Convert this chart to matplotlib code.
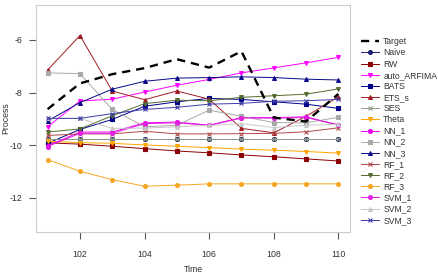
import matplotlib.pyplot as plt

# forecast horizon
time = [101, 102, 103, 104, 105, 106, 107, 108, 109, 110]

target = [-8.63, -7.65, -7.30, -7.07, -6.73, -7.05, -6.43, -8.95, -9.10, -8.05]
naive = [-9.78, -9.78, -9.78, -9.78, -9.78, -9.78, -9.78, -9.78, -9.78, -9.78]
rw = [-9.91, -9.96, -10.04, -10.13, -10.22, -10.29, -10.37, -10.44, -10.52, -10.60]
auto_arfima = [-9.30, -8.32, -8.25, -7.98, -7.72, -7.50, -7.25, -7.06, -6.87, -6.66]
bats = [-9.93, -9.40, -9.02, -8.52, -8.35, -8.22, -8.26, -8.35, -8.44, -8.60]
ets_s = [-7.14, -5.83, -7.94, -8.27, -7.94, -8.25, -9.36, -9.53, -8.90, -8.16]
ses = [-9.78, -9.78, -9.78, -9.78, -9.78, -9.78, -9.78, -9.78, -9.78, -9.78]
theta = [-9.85, -9.90, -9.93, -9.99, -10.04, -10.09, -10.15, -10.19, -10.24, -10.30]
nn_1 = [-10.02, -9.50, -9.50, -9.15, -9.12, -9.24, -8.95, -8.95, -8.92, -9.24]
nn_2 = [-7.25, -7.28, -8.64, -9.30, -9.24, -8.67, -8.90, -9.14, -9.15, -8.94]
nn_3 = [-9.08, -8.38, -7.87, -7.57, -7.45, -7.43, -7.40, -7.43, -7.49, -7.52]
rf_1 = [-9.63, -9.57, -9.57, -9.47, -9.57, -9.57, -9.56, -9.55, -9.49, -9.34]
rf_2 = [-9.50, -9.38, -8.88, -8.42, -8.29, -8.31, -8.18, -8.12, -8.06, -7.86]
rf_3 = [-10.55, -10.99, -11.31, -11.56, -11.52, -11.47, -11.47, -11.47, -11.47, -11.47]
svm_1 = [-10.05, -9.55, -9.55, -9.18, -9.15, -9.25, -8.97, -8.97, -8.95, -9.22]
svm_2 = [-8.98, -8.98, -9.36, -9.35, -9.30, -9.25, -9.18, -9.33, -9.24, -9.21]
svm_3 = [-8.98, -8.98, -8.80, -8.64, -8.56, -8.44, -8.41, -8.33, -8.31, -8.26]

labels = ['Naive', 'RW', 'auto_ARFIMA', 'BATS', 'ETS_s', 'SES', 'Theta', 'NN_1',
          'NN_2', 'NN_3', 'RF_1', 'RF_2', 'RF_3', 'SVM_1', 'SVM_2', 'SVM_3']
series = [naive, rw, auto_arfima, bats, ets_s, ses, theta, nn_1,
          nn_2, nn_3, rf_1, rf_2, rf_3, svm_1, svm_2, svm_3]
colors = ['#1c1c70', '#8b0000', '#ff00ff', '#00008b', '#a01c24', '#8e9c88', '#ffa500', '#f000f0',
          '#a9a9a9', '#0a0a8a', '#b24848', '#556b2f', '#f5a623', '#e020e0', '#c8c8c8', '#3c3ca8']
markers = ['o', 's', 'v', 's', '^', 'x', 'v', 'o', 's', '^', 'x', 'v', 'o', 'o', '^', 'x']

plt.rcParams['font.family'] = ['Liberation Sans', 'DejaVu Sans']

fig = plt.figure(figsize=(4.38, 2.75), dpi=100)
ax = fig.add_axes([36 / 438, 1 - 232 / 275, 314 / 438, 227 / 275])

handles = []
h, = ax.plot(time, target, color='black', lw=1.7, ls=(0, (3.5, 2.5)), zorder=5, label='Target')
handles.append(h)
for vals, lab, col, mk in zip(series, labels, colors, markers):
    ms = 2.8 if mk != 'x' else 3.0
    h, = ax.plot(time, vals, color=col, lw=0.7, marker=mk, ms=ms, mew=0.8, label=lab)
    handles.append(h)

ax.set_xlim(100.64, 110.36)
ax.set_ylim(-13.3, -4.67)
ax.set_xticks([102, 104, 106, 108, 110])
ax.set_yticks([-12, -10, -8, -6])
ax.set_yticklabels(['-12', '-10', '-8', '-6'])
ax.tick_params(direction='out', length=5, width=0.8, color='#555555',
               labelsize=6.3, labelcolor='#333333')
ax.tick_params(axis='x', pad=8)
ax.tick_params(axis='y', pad=5)
for s in ax.spines.values():
    s.set_color('#cccccc')
    s.set_linewidth(0.8)
ax.set_xlabel('Time', fontsize=6.3, color='#333333', labelpad=4)
fig.text(0.014, 1 - 118 / 275, 'Process', rotation=90, ha='center', va='center',
         fontsize=6.3, color='#333333')

fig.legend(handles=handles, loc='upper left', bbox_to_anchor=(357 / 438, 1 - 33 / 275),
           frameon=False, fontsize=6.2, labelspacing=0.25, handlelength=2.0,
           handletextpad=0.55, borderpad=0, labelcolor='#333333')

plt.savefig('out.png', dpi=100)
